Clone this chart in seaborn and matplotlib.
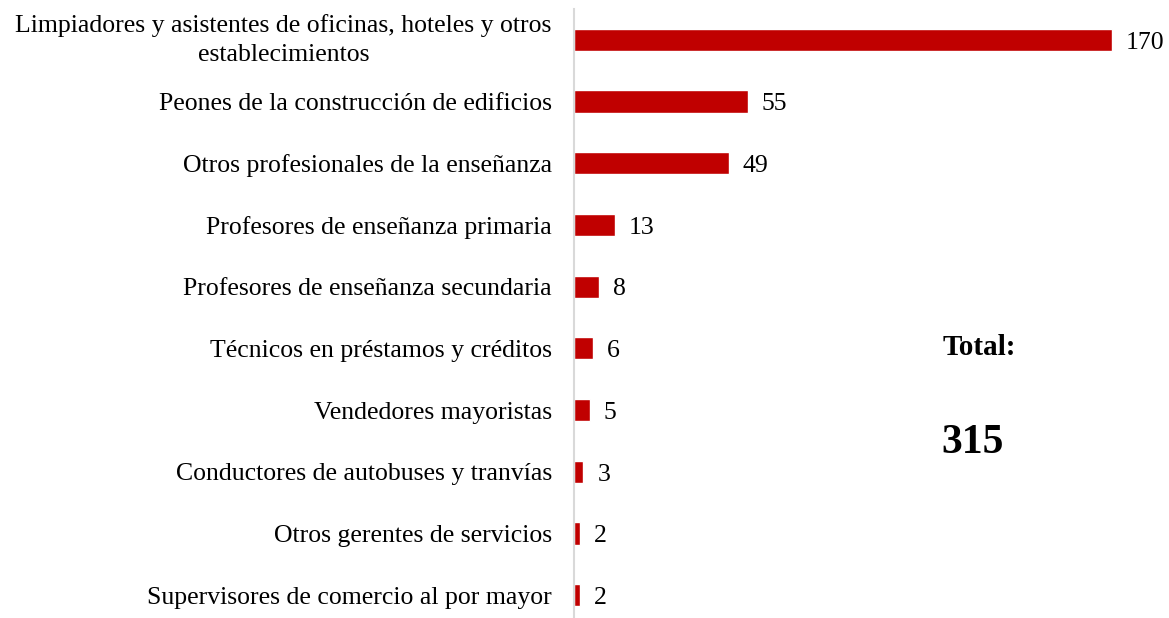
import pandas as pd
import numpy as np
import seaborn as sns
import matplotlib.pyplot as plt

# ocupaciones y número de casos
ocupaciones = [
    "Limpiadores y asistentes de oficinas, hoteles y otros\nestablecimientos",
    "Peones de la construcción de edificios",
    "Otros profesionales de la enseñanza",
    "Profesores de enseñanza primaria",
    "Profesores de enseñanza secundaria",
    "Técnicos en préstamos y créditos",
    "Vendedores mayoristas",
    "Conductores de autobuses y tranvías",
    "Otros gerentes de servicios",
    "Supervisores de comercio al por mayor",
]
casos = [170, 55, 49, 13, 8, 6, 5, 3, 2, 2]
total = 315

sns.set_theme(style="white")
plt.rcParams["font.family"] = ["Liberation Serif", "DejaVu Serif"]
plt.rcParams["text.color"] = "black"

df = pd.DataFrame({"ocupacion": ocupaciones, "casos": casos})

fig = plt.figure(figsize=(11.69, 6.18), dpi=100)
ax = fig.add_axes([0.491, 0.0, 0.509, 0.9854])

sns.barplot(data=df, x="casos", y="ocupacion", orient="h", color="#c00000",
            saturation=1, width=0.36, ax=ax)

ax.set_xlim(0, 188)
ax.set_ylim(9.37, -0.5)

for i, v in enumerate(casos):
    ax.annotate(str(v), (v, i), xytext=(10, -2), textcoords="offset points",
                va="center", ha="left", fontsize=18.5, color="black")

ax.set_xlabel("")
ax.set_ylabel("")
ax.set_xticks([])
ax.tick_params(axis="y", length=0, pad=16, labelsize=18.5, labelcolor="black")
for lbl in ax.get_yticklabels():
    lbl.set_multialignment("center")
    lbl.set_linespacing(1.45)
    if "\n" in lbl.get_text():
        lbl.set_verticalalignment("center")

for s in ["top", "right", "bottom"]:
    ax.spines[s].set_visible(False)
ax.spines["left"].set_color("#d9d9d9")
ax.spines["left"].set_linewidth(1.5)

fig.text(0.838, 0.438, "Total:", fontsize=21, fontweight="bold", ha="center", va="center", color="black")
fig.text(0.832, 0.283, str(total), fontsize=30, fontweight="bold", ha="center", va="center", color="black")

fig.savefig("out.png", dpi=100)
